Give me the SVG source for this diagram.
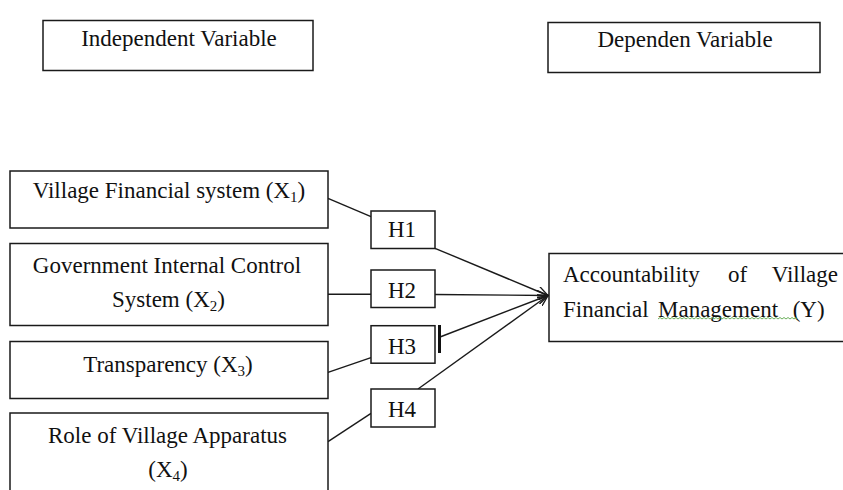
<svg xmlns="http://www.w3.org/2000/svg" width="843" height="490" viewBox="0 0 843 490">
<style>
.box{fill:#fff;stroke:#1a1a1a;stroke-width:1.5}
.t{font-family:"Liberation Serif","Times New Roman",serif;font-size:23px;fill:#111}
.tc{text-anchor:middle}
.con{stroke:#1a1a1a;stroke-width:1.4;fill:none}
.sub{font-size:15px}
</style>
<defs>
<marker id="arr" viewBox="0 0 12 10" refX="11" refY="5" markerWidth="12" markerHeight="10" markerUnits="userSpaceOnUse" orient="auto">
<path d="M0,0 L11,5 L0,10" fill="none" stroke="#1a1a1a" stroke-width="1.4"/>
</marker>
</defs>
<rect width="843" height="490" fill="#fff"/>

<g id="independent-label">
<rect class="box" x="43" y="20.5" width="270" height="50"/>
<text class="t tc" x="179" y="46">Independent Variable</text>
</g>
<g id="dependent-label">
<rect class="box" x="548" y="22.5" width="272" height="50"/>
<text class="t tc" x="685" y="47">Dependen Variable</text>
</g>

<g id="connectors">
<line class="con" x1="328" y1="198.3" x2="371" y2="216.7"/>
<line class="con" x1="328" y1="294.3" x2="371" y2="294.3"/>
<line class="con" x1="328" y1="372.3" x2="371" y2="357.7"/>
<line class="con" x1="328" y1="441.7" x2="371" y2="413.3"/>
<line class="con" x1="435" y1="248.3" x2="548" y2="295.5" marker-end="url(#arr)"/>
<line class="con" x1="435" y1="294.5" x2="548" y2="295.5" marker-end="url(#arr)"/>
<line class="con" x1="440" y1="337" x2="548" y2="295.5" marker-end="url(#arr)"/>
<line class="con" x1="418" y1="389" x2="548" y2="295.5" marker-end="url(#arr)"/>
<line x1="439.5" y1="325" x2="439.5" y2="353" stroke="#111" stroke-width="3"/>
</g>

<g id="x1">
<rect class="box" x="10" y="171" width="318" height="57"/>
<text class="t tc" x="169" y="198">Village Financial  system (X<tspan class="sub" dy="4">1</tspan><tspan dy="-4">)</tspan></text>
</g>
<g id="x2">
<rect class="box" x="10" y="243.5" width="318" height="82"/>
<text class="t tc" x="167" y="273">Government Internal Control</text>
<text class="t tc" x="168.5" y="307">System (X<tspan class="sub" dy="4">2</tspan><tspan dy="-4">)</tspan></text>
</g>
<g id="x3">
<rect class="box" x="10" y="341.5" width="318" height="57"/>
<text class="t tc" x="168" y="372">Transparency  (X<tspan class="sub" dy="4">3</tspan><tspan dy="-4">)</tspan></text>
</g>
<g id="x4">
<rect class="box" x="10" y="413" width="318" height="90"/>
<text class="t tc" x="167.5" y="443">Role of Village Apparatus</text>
<text class="t tc" x="168" y="477">(X<tspan class="sub" dy="4">4</tspan><tspan dy="-4">)</tspan></text>
</g>

<g id="h1">
<rect class="box" x="371" y="211" width="64" height="37.5"/>
<text class="t tc" x="402" y="237">H1</text>
</g>
<g id="h2">
<rect class="box" x="371" y="270" width="64" height="37.5"/>
<text class="t tc" x="402" y="298">H2</text>
</g>
<g id="h3">
<rect class="box" x="371" y="325.7" width="64" height="37.5"/>
<text class="t tc" x="402" y="353.5">H3</text>
</g>
<g id="h4">
<rect class="box" x="371" y="389" width="64" height="38"/>
<text class="t tc" x="402" y="417">H4</text>
</g>

<g id="y">
<rect class="box" x="549" y="253.5" width="310" height="88"/>
<text class="t" x="563" y="281.7">Accountability</text>
<text class="t" x="728" y="281.7">of</text>
<text class="t" x="771.7" y="281.7">Village</text>
<text class="t" x="563" y="316.7">Financial</text>
<text class="t" x="658" y="316.7">Management</text>
<text class="t" x="792.7" y="316.7">(Y)</text>
<path d="M658,319 l2,-1.5 l2,1.5 l2,-1.5 l2,1.5 l2,-1.5 l2,1.5 l2,-1.5 l2,1.5 l2,-1.5 l2,1.5 l2,-1.5 l2,1.5 l2,-1.5 l2,1.5 l2,-1.5 l2,1.5 l2,-1.5 l2,1.5 l2,-1.5 l2,1.5 l2,-1.5 l2,1.5 l2,-1.5 l2,1.5 l2,-1.5 l2,1.5 l2,-1.5 l2,1.5 l2,-1.5 l2,1.5 l2,-1.5 l2,1.5 l2,-1.5 l2,1.5 l2,-1.5 l2,1.5 l2,-1.5 l2,1.5 l2,-1.5 l2,1.5 l2,-1.5 l2,1.5 l2,-1.5 l2,1.5 l2,-1.5 l2,1.5 l2,-1.5 l2,1.5 l2,-1.5 l2,1.5 l2,-1.5 l2,1.5 l2,-1.5 l2,1.5 l2,-1.5 l2,1.5 l2,-1.5 l2,1.5 l2,-1.5 l2,1.5 l2,-1.5 l2,1.5 l2,-1.5 l2,1.5 l2,-1.5 l2,1.5 l2,-1.5 l2,1.5 l2,-1.5 l1,1.5" fill="none" stroke="#5aa64a" stroke-width="0.9"/>
</g>
</svg>
